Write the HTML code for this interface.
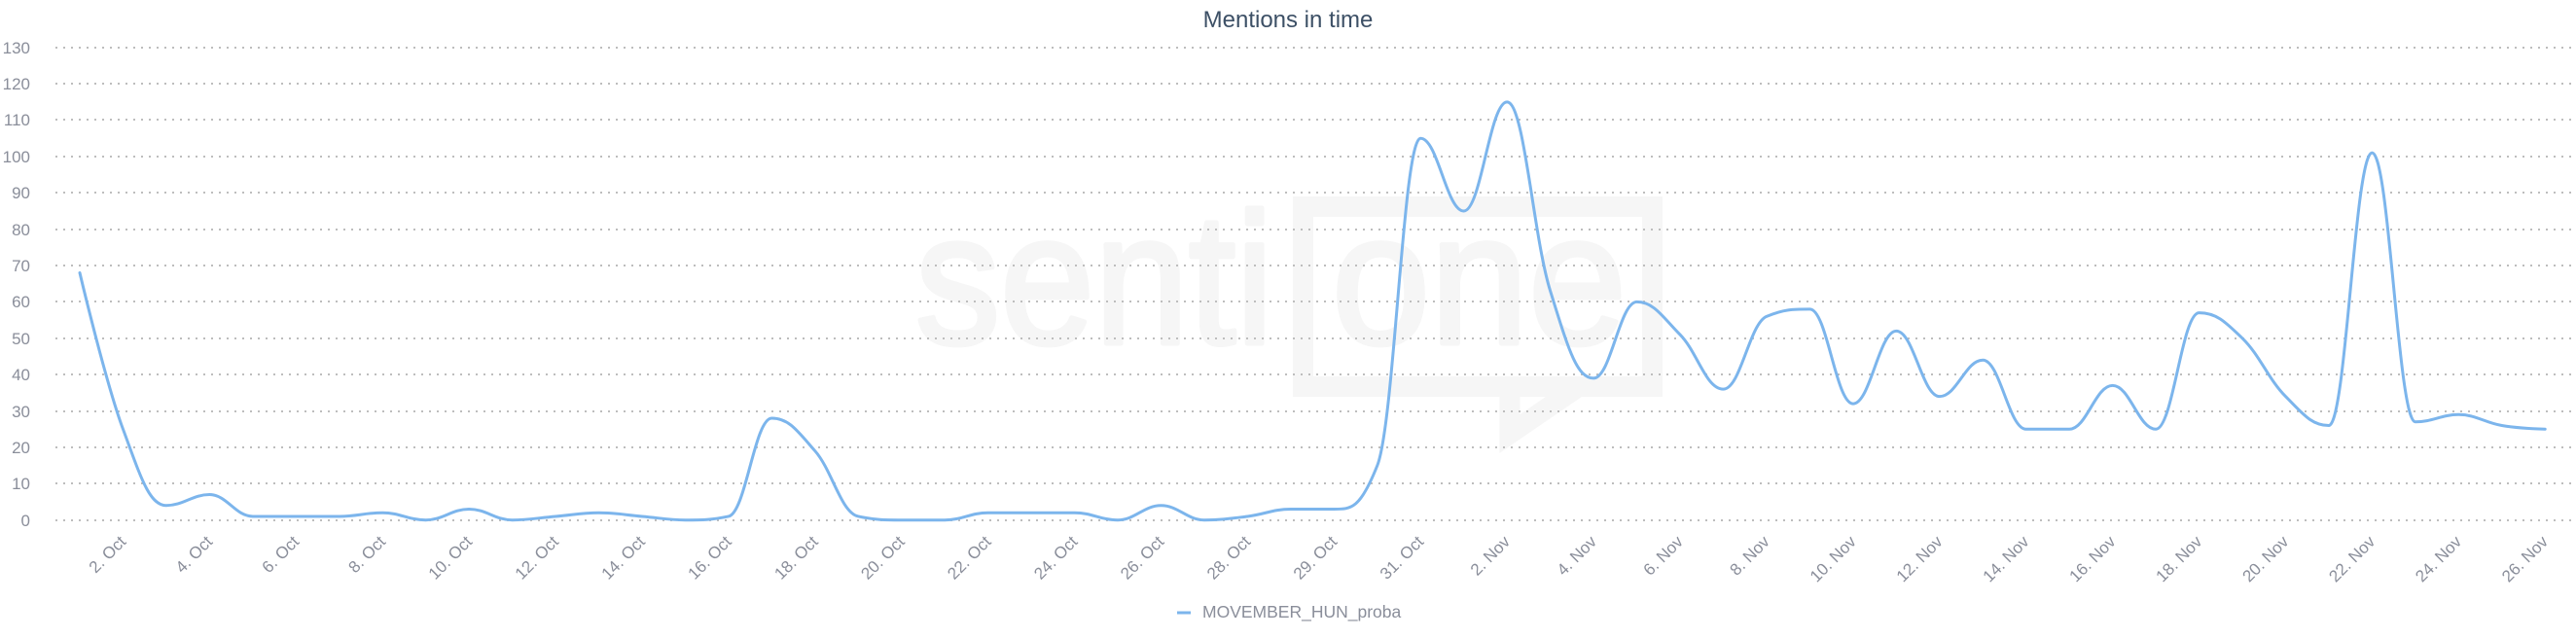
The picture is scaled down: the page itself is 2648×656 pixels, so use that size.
<!DOCTYPE html>
<html>
<head>
<meta charset="utf-8">
<style>
html,body{margin:0;padding:0;background:#fff;}
svg{display:block;}
text{font-family:"Liberation Sans",Arial,sans-serif;}
.yl{font-size:17px;fill:#8a8e9a;text-anchor:end;}
.xl{font-size:17px;fill:#8a8e9a;text-anchor:end;}
.grid line{stroke:#bdbdbd;stroke-width:2;stroke-dasharray:2,6;}
</style>
</head>
<body>
<svg width="2648" height="656" viewBox="0 0 2648 656" xmlns="http://www.w3.org/2000/svg">
<rect width="2648" height="656" fill="#fff"/>

<!-- watermark -->
<g fill="#f6f6f6" stroke="#f6f6f6" stroke-width="5" stroke-linejoin="round">
  <text x="941" y="353" font-size="192" textLength="368" lengthAdjust="spacingAndGlyphs">senti</text>
  <text x="1369" y="353" font-size="192" textLength="303" lengthAdjust="spacingAndGlyphs">one</text>
</g>
<path fill="#f6f6f6" fill-rule="evenodd" d="M1329 202 H1709 V408 H1329 Z M1350 223 V387 H1688 V223 Z"/>
<polyline points="1552,395 1552,446 1622,398" fill="none" stroke="#f6f6f6" stroke-width="21"/>

<!-- grid -->
<g class="grid">
  <line x1="57" x2="2644" y1="535" y2="535"/>
  <line x1="57" x2="2644" y1="497" y2="497"/>
  <line x1="57" x2="2644" y1="460" y2="460"/>
  <line x1="57" x2="2644" y1="423" y2="423"/>
  <line x1="57" x2="2644" y1="385" y2="385"/>
  <line x1="57" x2="2644" y1="348" y2="348"/>
  <line x1="57" x2="2644" y1="310" y2="310"/>
  <line x1="57" x2="2644" y1="273" y2="273"/>
  <line x1="57" x2="2644" y1="236" y2="236"/>
  <line x1="57" x2="2644" y1="198" y2="198"/>
  <line x1="57" x2="2644" y1="161" y2="161"/>
  <line x1="57" x2="2644" y1="123" y2="123"/>
  <line x1="57" x2="2644" y1="86" y2="86"/>
  <line x1="57" x2="2644" y1="49" y2="49"/>
</g>

<!-- y labels -->
<g class="yl">
  <text x="31" y="541">0</text>
  <text x="31" y="503">10</text>
  <text x="31" y="466">20</text>
  <text x="31" y="429">30</text>
  <text x="31" y="391">40</text>
  <text x="31" y="354">50</text>
  <text x="31" y="316">60</text>
  <text x="31" y="279">70</text>
  <text x="31" y="242">80</text>
  <text x="31" y="204">90</text>
  <text x="31" y="167">100</text>
  <text x="31" y="129">110</text>
  <text x="31" y="92">120</text>
  <text x="31" y="55">130</text>
</g>

<!-- x labels -->
<g class="xl">
  <text x="130.5" y="558" transform="rotate(-45 130.5 558)">2. Oct</text>
  <text x="219.4" y="558" transform="rotate(-45 219.4 558)">4. Oct</text>
  <text x="308.3" y="558" transform="rotate(-45 308.3 558)">6. Oct</text>
  <text x="397.2" y="558" transform="rotate(-45 397.2 558)">8. Oct</text>
  <text x="486.2" y="558" transform="rotate(-45 486.2 558)">10. Oct</text>
  <text x="575.1" y="558" transform="rotate(-45 575.1 558)">12. Oct</text>
  <text x="664.0" y="558" transform="rotate(-45 664.0 558)">14. Oct</text>
  <text x="752.9" y="558" transform="rotate(-45 752.9 558)">16. Oct</text>
  <text x="841.8" y="558" transform="rotate(-45 841.8 558)">18. Oct</text>
  <text x="930.8" y="558" transform="rotate(-45 930.8 558)">20. Oct</text>
  <text x="1019.7" y="558" transform="rotate(-45 1019.7 558)">22. Oct</text>
  <text x="1108.6" y="558" transform="rotate(-45 1108.6 558)">24. Oct</text>
  <text x="1197.5" y="558" transform="rotate(-45 1197.5 558)">26. Oct</text>
  <text x="1286.4" y="558" transform="rotate(-45 1286.4 558)">28. Oct</text>
  <text x="1375.3" y="558" transform="rotate(-45 1375.3 558)">29. Oct</text>
  <text x="1464.3" y="558" transform="rotate(-45 1464.3 558)">31. Oct</text>
  <text x="1553.2" y="558" transform="rotate(-45 1553.2 558)">2. Nov</text>
  <text x="1642.1" y="558" transform="rotate(-45 1642.1 558)">4. Nov</text>
  <text x="1731.0" y="558" transform="rotate(-45 1731.0 558)">6. Nov</text>
  <text x="1819.9" y="558" transform="rotate(-45 1819.9 558)">8. Nov</text>
  <text x="1908.9" y="558" transform="rotate(-45 1908.9 558)">10. Nov</text>
  <text x="1997.8" y="558" transform="rotate(-45 1997.8 558)">12. Nov</text>
  <text x="2086.7" y="558" transform="rotate(-45 2086.7 558)">14. Nov</text>
  <text x="2175.6" y="558" transform="rotate(-45 2175.6 558)">16. Nov</text>
  <text x="2264.5" y="558" transform="rotate(-45 2264.5 558)">18. Nov</text>
  <text x="2353.5" y="558" transform="rotate(-45 2353.5 558)">20. Nov</text>
  <text x="2442.4" y="558" transform="rotate(-45 2442.4 558)">22. Nov</text>
  <text x="2531.3" y="558" transform="rotate(-45 2531.3 558)">24. Nov</text>
  <text x="2620.2" y="558" transform="rotate(-45 2620.2 558)">26. Nov</text>
</g>

<!-- series -->
<path id="series" d="" fill="none" stroke="#7cb5ec" stroke-width="3" stroke-linejoin="round" stroke-linecap="round"/>

<!-- title -->
<text x="1324" y="28" font-size="24" fill="#3d5066" text-anchor="middle">Mentions in time</text>

<!-- legend -->
<line x1="1210" y1="630" x2="1224" y2="630" stroke="#7cb5ec" stroke-width="3"/>
<text x="1236" y="635" font-size="17.5" fill="#8a8e9a">MOVEMBER_HUN_proba</text>
</svg>

<script>
(function(){
  var data=[68,25,4,7,1,1,1,2,0,3,0,1,2,1,0,1,28,19,1,0,0,2,2,2,0,4,0,1,3,3,15,105,85,115,63,39,60,51,36,56,58,32,52,34,44,25,25,37,25,57,50,34,26,101,27,29,26,25];
  function X(i){return 82+44.46*i;}
  function Y(v){return 534.7-v*3.738;}
  var pts=data.map(function(v,i){return {x:X(i),y:Y(v)};});
  var d='M'+pts[0].x.toFixed(2)+' '+pts[0].y.toFixed(2);
  var s=1.5, den=2.5;
  for(var i=1;i<pts.length;i++){
    var p=pts[i], l=pts[i-1], n=pts[i+1];
    var lcx=p.x, lcy=p.y, rcx, rcy;
    if(n){
      lcx=(s*p.x+l.x)/den; lcy=(s*p.y+l.y)/den;
      rcx=(s*p.x+n.x)/den; rcy=(s*p.y+n.y)/den;
      var corr=((rcy-lcy)*(rcx-p.x))/(rcx-lcx)+p.y-rcy;
      lcy+=corr; rcy+=corr;
      if(lcy>l.y&&lcy>p.y){lcy=Math.max(l.y,p.y);rcy=2*p.y-lcy;}
      else if(lcy<l.y&&lcy<p.y){lcy=Math.min(l.y,p.y);rcy=2*p.y-lcy;}
      if(rcy>n.y&&rcy>p.y){rcy=Math.max(n.y,p.y);lcy=2*p.y-rcy;}
      else if(rcy<n.y&&rcy<p.y){rcy=Math.min(n.y,p.y);lcy=2*p.y-rcy;}
      p.rcx=rcx;p.rcy=rcy;
    }
    var a=(l.rcx!==undefined?l.rcx:l.x), b=(l.rcy!==undefined?l.rcy:l.y);
    d+=' C'+a.toFixed(2)+' '+b.toFixed(2)+' '+lcx.toFixed(2)+' '+lcy.toFixed(2)+' '+p.x.toFixed(2)+' '+p.y.toFixed(2);
  }
  document.getElementById('series').setAttribute('d',d);
})();
</script>
</body>
</html>
